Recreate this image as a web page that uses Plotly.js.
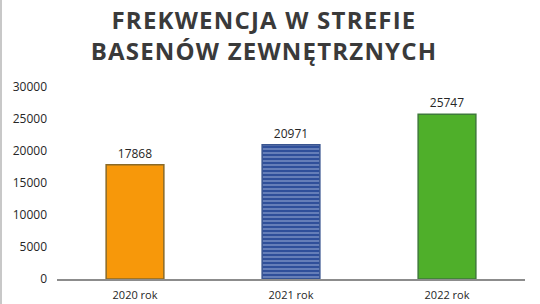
<!DOCTYPE html>
<html>
<head>
<meta charset="utf-8">
<script src="https://cdn.plot.ly/plotly-3.0.1.min.js"></script>
<style>
html,body{margin:0;padding:0;background:#fff;}
#chart{width:540px;height:304px;box-sizing:border-box;border-left:2px solid #c8c8c8;}
.gtitle{letter-spacing:1.2px;}
</style>
</head>
<body>
<div id="chart"></div>
<script>
const categories = ["2020 rok", "2021 rok", "2022 rok"];
const values = [17868, 20971, 25747];
const tickValues = [0, 5000, 10000, 15000, 20000, 25000, 30000];

const fillColors = ["#F7980A", "#3F62AE", "#4FAF2A"];
const lineColors = ["#8A6A28", "#3A5590", "#3E7A3A"];

const bars = categories.map((c, i) => ({
  type: "bar",
  x: [c],
  y: [values[i]],
  width: 0.37,
  text: [String(values[i])],
  textposition: "outside",
  cliponaxis: false,
  textfont: {family: "Open Sans, sans-serif", size: 12, color: "#262626"},
  marker: {
    color: fillColors[i],
    line: {color: lineColors[i], width: 1.5},
    pattern: i === 1 ? {shape: "-", fgcolor: "#C9D6F0", bgcolor: "#2F4F9A", size: 4, solidity: 0.35, fillmode: "overlay"} : undefined
  },
  hoverinfo: "none",
  showlegend: false
}));

const layout = {
  width: 538,
  height: 304,
  margin: {l: 55, r: 15, t: 87, b: 25},
  paper_bgcolor: "#ffffff",
  plot_bgcolor: "#ffffff",
  title: {
    text: "FREKWENCJA W STREFIE<br>BASENÓW ZEWNĘTRZNYCH",
    font: {family: "Open Sans, sans-serif", size: 24, color: "#3a3a3a", weight: "bold"},
    x: 0.487,
    xanchor: "center",
    y: 0.905,
    yanchor: "middle",
    automargin: false
  },
  xaxis: {
    type: "category",
    showline: true,
    linecolor: "#8c8c8c",
    linewidth: 1.5,
    ticks: "",
    ticklabelstandoff: 5,
    tickfont: {family: "Open Sans, sans-serif", size: 11, color: "#262626"},
    showgrid: false,
    zeroline: false,
    fixedrange: true
  },
  yaxis: {
    range: [0, 30000],
    tickvals: tickValues,
    ticktext: tickValues.map(String),
    showline: false,
    showgrid: false,
    zeroline: false,
    ticks: "",
    ticklabelstandoff: 9,
    tickfont: {family: "Open Sans, sans-serif", size: 12, color: "#262626"},
    fixedrange: true
  },
  bargap: 0.63
};

Plotly.newPlot("chart", bars, layout, {displayModeBar: false, staticPlot: true});
</script>
</body>
</html>
